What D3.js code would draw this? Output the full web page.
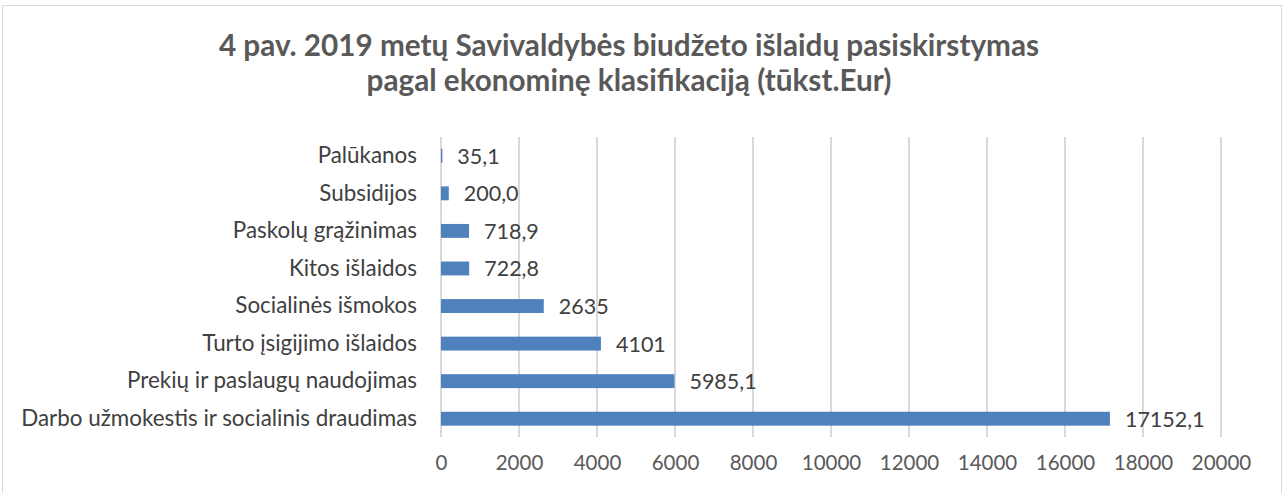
<!DOCTYPE html>
<html>
<head>
<meta charset="utf-8">
<script src="https://cdn.jsdelivr.net/npm/d3@7"></script>
<style>
  html, body { margin: 0; padding: 0; background: #fff; }
  #chart { width: 1286px; height: 493px; }
  text { font-family: Lato, "Open Sans", sans-serif; }
</style>
</head>
<body>
<div id="chart"></div>
<script>
const categories = [
  "Palūkanos",
  "Subsidijos",
  "Paskolų grąžinimas",
  "Kitos išlaidos",
  "Socialinės išmokos",
  "Turto įsigijimo išlaidos",
  "Prekių ir paslaugų naudojimas",
  "Darbo užmokestis ir socialinis draudimas"
];
const values = [35.1, 200.0, 718.9, 722.8, 2635, 4101, 5985.1, 17152.1];
const valueLabels = ["35,1", "200,0", "718,9", "722,8", "2635", "4101", "5985,1", "17152,1"];
const xTicks = [0, 2000, 4000, 6000, 8000, 10000, 12000, 14000, 16000, 18000, 20000];
const titleLines = [
  "4 pav. 2019 metų Savivaldybės biudžeto išlaidų pasiskirstymas",
  "pagal ekonominę klasifikaciją (tūkst.Eur)"
];

const width = 1286, height = 493;
const svg = d3.select('#chart').append('svg').attr('width', width).attr('height', height);

// chart frame
svg.append('rect').attr('x', 2.5).attr('y', 5.5).attr('width', 1279).attr('height', 500)
  .attr('fill', '#fff').attr('stroke', '#d9d9d9');

// title
svg.selectAll('.title').data(titleLines).enter().append('text')
  .attr('x', 629).attr('y', (d, i) => 56 + i * 35)
  .attr('text-anchor', 'middle')
  .attr('font-size', 29.7).attr('font-weight', 'bold').attr('fill', '#595959')
  .text(d => d);

const x = d3.scaleLinear().domain([0, 20000]).range([441, 1221]);
const y = d3.scaleBand().domain(categories).range([137, 437.5]).paddingInner(0.63).paddingOuter(0.315);

// gridlines
svg.append('g').selectAll('line').data(xTicks).enter().append('line')
  .attr('x1', d => x(d)).attr('x2', d => x(d))
  .attr('y1', 137).attr('y2', 437)
  .attr('stroke', '#d9d9d9').attr('stroke-width', 2);

// x axis labels
const xAxis = svg.append('g').attr('transform', 'translate(0,437)')
  .call(d3.axisBottom(x).tickValues(xTicks).tickSize(0).tickPadding(18).tickFormat(d3.format('d')));
xAxis.select('.domain').remove();
xAxis.selectAll('text').attr('font-size', 20.5).attr('fill', '#595959')
  .attr('font-family', 'Lato, "Open Sans", sans-serif');

// y axis labels
const yAxis = svg.append('g').attr('transform', 'translate(441,0)')
  .call(d3.axisLeft(y).tickSize(0).tickPadding(24));
yAxis.select('.domain').remove();
yAxis.selectAll('text').attr('font-size', 22.4).attr('fill', '#404040')
  .attr('font-family', 'Lato, "Open Sans", sans-serif');

// bars
svg.append('g').selectAll('rect').data(values).enter().append('rect')
  .attr('x', x(0)).attr('y', (d, i) => y(categories[i]))
  .attr('width', d => x(d) - x(0)).attr('height', y.bandwidth())
  .attr('fill', '#4f81bd');

// value labels
svg.append('g').selectAll('text').data(values).enter().append('text')
  .attr('x', d => x(d) + 15).attr('y', (d, i) => y(categories[i]) + y.bandwidth() / 2 + 8)
  .attr('font-size', 21.5).attr('fill', '#404040')
  .text((d, i) => valueLabels[i]);
</script>
</body>
</html>
